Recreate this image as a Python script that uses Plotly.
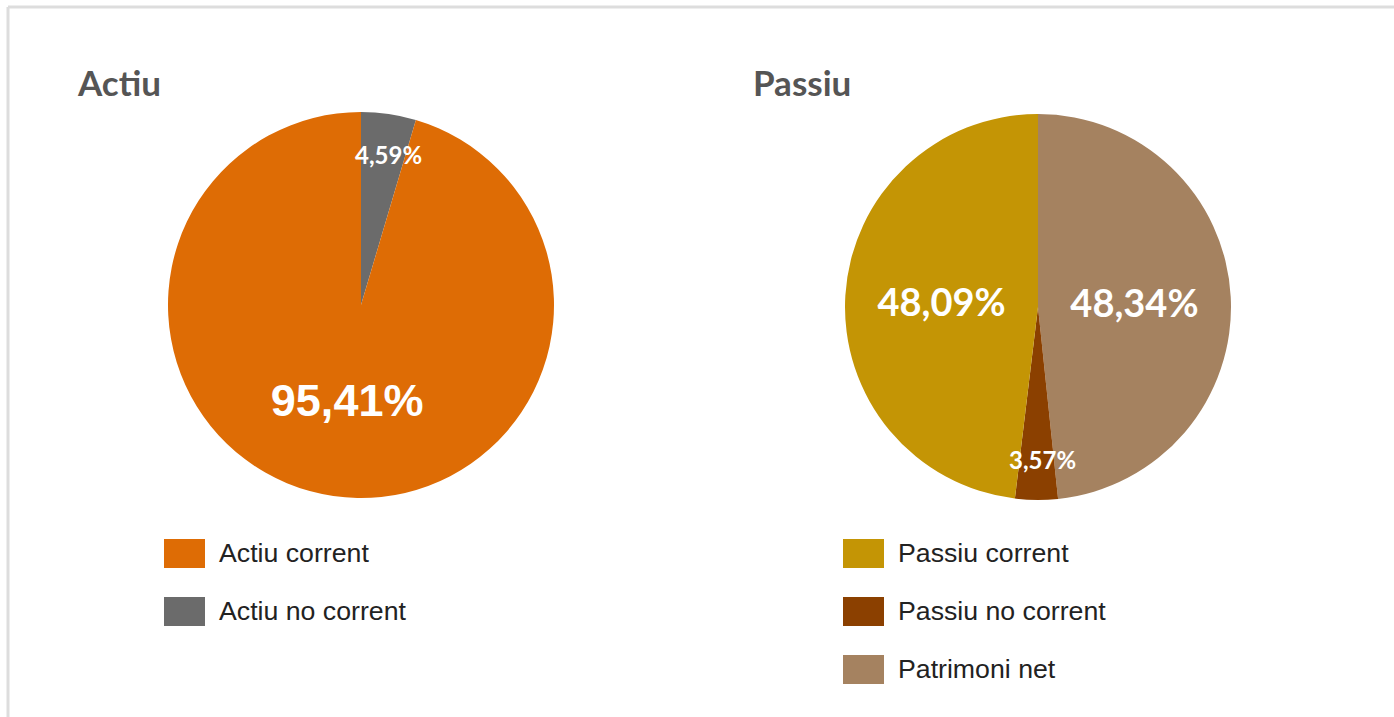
import math
import plotly.graph_objects as go

W, H = 1394, 717

# Data
actiu_labels = ["Actiu no corrent", "Actiu corrent"]
actiu_values = [4.59, 95.41]
actiu_colors = ["#6b6b6b", "#de6c05"]
actiu_legend_order = ["Actiu corrent", "Actiu no corrent"]

passiu_labels = ["Patrimoni net", "Passiu no corrent", "Passiu corrent"]
passiu_values = [48.34, 3.57, 48.09]
passiu_colors = ["#a58260", "#8b4000", "#c49505"]
passiu_legend_order = ["Passiu corrent", "Passiu no corrent", "Patrimoni net"]

SMALL = 10  # slices below this percent get their label as an annotation


def fmt(v):
    return f"{v:.2f}".replace(".", ",") + "%"


def px_x(x):
    return x / W


def px_y(y):
    return 1 - y / H


fig = go.Figure()
shapes = []
annotations = []


def add_pie(labels, values, colors, cx, cy, r, big_size, big_family):
    texts = [fmt(v) if v >= SMALL else "" for v in values]
    fig.add_trace(go.Pie(
        labels=labels, values=values, sort=False, direction="clockwise", rotation=0,
        marker=dict(colors=colors, line=dict(width=0)),
        text=texts, textinfo="text", textposition="inside",
        insidetextorientation="horizontal",
        textfont=dict(color="white", size=big_size, family=big_family, weight="bold"),
        hoverinfo="label+percent", showlegend=False,
        domain=dict(x=[px_x(cx - r), px_x(cx + r)], y=[px_y(cy + r), px_y(cy - r)]),
    ))
    total = sum(values)
    cum = 0.0
    for v in values:
        mid = (cum + v / 2) / total * 2 * math.pi
        cum += v
        if v < SMALL:
            rr = 0.79 * r
            x = cx + rr * math.sin(mid) + 6
            y = cy - rr * math.cos(mid)
            annotations.append(dict(text=f"<b>{fmt(v)}</b>", xref="paper", yref="paper",
                                    x=px_x(x), y=px_y(y), xanchor="center", yanchor="middle",
                                    showarrow=False,
                                    font=dict(family="Lato", size=24, color="white")))


add_pie(actiu_labels, actiu_values, actiu_colors, 361, 305, 193, 45, "Liberation Sans")
add_pie(passiu_labels, passiu_values, passiu_colors, 1038, 307, 193, 38, "Lato")

# frame
shapes.append(dict(type="line", xref="paper", yref="paper", x0=px_x(8), x1=px_x(1394),
                   y0=px_y(7), y1=px_y(7), line=dict(color="#dddddd", width=3)))
shapes.append(dict(type="line", xref="paper", yref="paper", x0=px_x(8), x1=px_x(8),
                   y0=px_y(7), y1=px_y(720), line=dict(color="#dddddd", width=3)))

# titles
for txt, x in [("Actiu", 75), ("Passiu", 751)]:
    annotations.append(dict(text=f"<b>{txt}</b>", xref="paper", yref="paper",
                            x=px_x(x), y=px_y(82), xanchor="left", yanchor="middle",
                            showarrow=False, font=dict(family="Lato", size=35, color="#555555")))


# legends
def add_legend(order, labels, colors, x0):
    cmap = dict(zip(labels, colors))
    for i, lab in enumerate(order):
        top = 539 + i * 58
        shapes.append(dict(type="rect", xref="paper", yref="paper",
                           x0=px_x(x0), x1=px_x(x0 + 41), y0=px_y(top + 29), y1=px_y(top),
                           fillcolor=cmap[lab], line=dict(width=0)))
        annotations.append(dict(text=lab, xref="paper", yref="paper",
                                x=px_x(x0 + 53), y=px_y(top + 14), xanchor="left", yanchor="middle",
                                showarrow=False,
                                font=dict(family="Liberation Sans", size=26.7, color="#222222")))


add_legend(actiu_legend_order, actiu_labels, actiu_colors, 164)
add_legend(passiu_legend_order, passiu_labels, passiu_colors, 843)

fig.update_layout(width=W, height=H, margin=dict(l=0, r=0, t=0, b=0),
                  paper_bgcolor="white", plot_bgcolor="white",
                  shapes=shapes, annotations=annotations)

fig.write_html("out.html", config={"displayModeBar": False})

with open("out.html", encoding="utf-8") as f:
    html = f.read()
html = html.replace("<head>", "<head><style>html,body{margin:0;padding:0;overflow:hidden;}</style>", 1)
with open("out.html", "w", encoding="utf-8") as f:
    f.write(html)
